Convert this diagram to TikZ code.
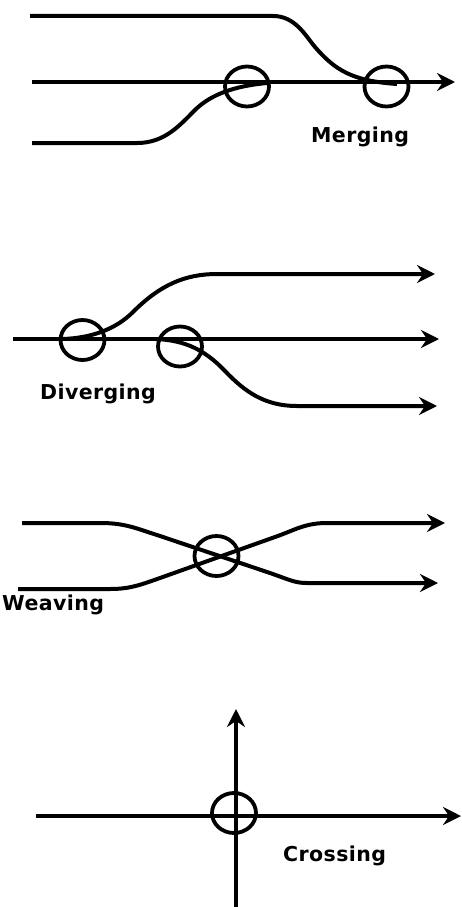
\documentclass[tikz,border=0pt]{standalone}
\usepackage{fontspec}
\newfontfamily\lblfont{DejaVu Sans}[BoldFont={DejaVu Sans Bold},LetterSpace=2]
\usetikzlibrary{arrows.meta}
\begin{document}
\begin{tikzpicture}[x=1pt,y=-1pt,
  road/.style={line width=4pt,line join=round},
  flow/.style={road,-{Stealth[length=18pt,width=18pt,inset=6pt]}},
  conflict/.style={line width=3.8pt},
  lbl/.style={anchor=base west,inner sep=0pt,font=\lblfont\bfseries\fontsize{20.5}{25}\selectfont}]
\useasboundingbox (0,0) rectangle (462,907);
% ---------- Merging ----------
\coordinate (m-main-s) at (32,82);
\coordinate (m-main-e) at (455,82);
\coordinate (m-top-s) at (30,16);
\coordinate (m-top-k) at (273,16);
\coordinate (m-top-e) at (397,84);
\coordinate (m-bot-s) at (32,143);
\coordinate (m-bot-k) at (137,143);
\coordinate (m-bot-e) at (267,83);
\coordinate (m1) at (247,86.5);
\coordinate (m2) at (386.5,86.5);
\draw[flow] (m-main-s) -- (m-main-e);
\draw[road] (m-top-s) -- (m-top-k) .. controls (295,16) and (305,35) .. (315,47)
  .. controls (335,70) and (352,81) .. (m-top-e);
\draw[road] (m-bot-s) -- (m-bot-k) .. controls (165,143) and (180,125) .. (196,109)
  .. controls (212,94) and (235,86) .. (m-bot-e);
\draw[conflict] (m1) ellipse [x radius=22, y radius=20];
\draw[conflict] (m2) ellipse [x radius=22, y radius=20];
\node[lbl] (merging) at (311,142) {Merging};
% ---------- Diverging ----------
\coordinate (d-main-s) at (13,339);
\coordinate (d-main-e) at (439,339);
\coordinate (d-top-s) at (63,339);
\coordinate (d-top-k) at (217,274);
\coordinate (d-top-e) at (435,274);
\coordinate (d-bot-s) at (155,339);
\coordinate (d-bot-k) at (297,406);
\coordinate (d-bot-e) at (437,406);
\coordinate (d1) at (82.5,340);
\coordinate (d2) at (180,346.5);
\draw[flow] (d-main-s) -- (d-main-e);
\draw[flow] (d-top-s) .. controls (90,338) and (115,330) .. (133,312)
  .. controls (160,285) and (185,274) .. (d-top-k) -- (d-top-e);
\draw[flow] (d-bot-s) .. controls (185,340) and (205,350) .. (225,371)
  .. controls (245,392) and (265,406) .. (d-bot-k) -- (d-bot-e);
\draw[conflict] (d1) ellipse [x radius=22, y radius=20];
\draw[conflict] (d2) ellipse [x radius=22, y radius=20];
\node[lbl] (diverging) at (40,399) {Diverging};
% ---------- Weaving ----------
\coordinate (w-a-s) at (22,523);
\coordinate (w-a-k) at (100,523);
\coordinate (w-a-m) at (307,583);
\coordinate (w-a-e) at (438,583);
\coordinate (w-b-s) at (18,589);
\coordinate (w-b-k) at (110,589);
\coordinate (w-b-m) at (327,523);
\coordinate (w-b-e) at (445,523);
\coordinate (w1) at (216.5,556);
\draw[flow] (w-a-s) -- (w-a-k) .. controls (125,523) and (135,528) .. (160,536)
  -- (270,573) .. controls (290,580) and (295,583) .. (w-a-m) -- (w-a-e);
\draw[flow] (w-b-s) -- (w-b-k) .. controls (130,589) and (140,585) .. (160,578)
  -- (275,537) .. controls (295,530) and (305,523) .. (w-b-m) -- (w-b-e);
\draw[conflict] (w1) ellipse [x radius=22, y radius=20];
\node[lbl] (weaving) at (2,610) {Weaving};
% ---------- Crossing ----------
\coordinate (c-h-s) at (36,816);
\coordinate (c-h-e) at (461,816);
\coordinate (c-v-s) at (236,907);
\coordinate (c-v-e) at (236,709);
\coordinate (c1) at (234,813);
\draw[flow] (c-h-s) -- (c-h-e);
\draw[flow] (c-v-s) -- (c-v-e);
\draw[conflict] (c1) ellipse [x radius=22, y radius=20];
\node[lbl] (crossing) at (283,861) {Crossing};
\end{tikzpicture}
\end{document}
